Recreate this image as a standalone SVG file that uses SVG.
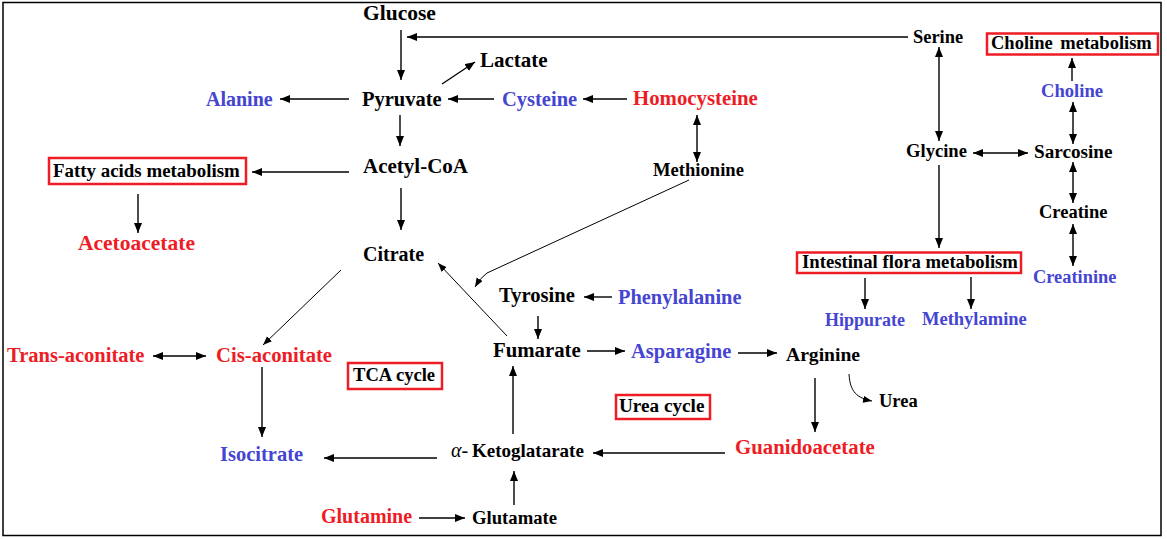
<svg xmlns="http://www.w3.org/2000/svg" width="1167" height="539" viewBox="0 0 1167 539">
<defs>
<marker id="ah" markerUnits="userSpaceOnUse" markerWidth="11" markerHeight="9" refX="10" refY="4" orient="auto-start-reverse"><path d="M0,0 L10,4 L0,8 Z" fill="#000"/></marker>
<marker id="ahs" markerUnits="userSpaceOnUse" markerWidth="10" markerHeight="8" refX="9" refY="3.5" orient="auto-start-reverse"><path d="M0,0 L9,3.5 L0,7 Z" fill="#000"/></marker>
</defs>
<style>
text{font-family:"Liberation Serif","Times New Roman",serif;font-weight:bold;fill:#000}
.r{fill:#EE1C25}
.b{fill:#4545D2}
.box{fill:none;stroke:#EE1C25;stroke-width:2.5}
.c line,.c path{stroke:#000;stroke-width:1.4;fill:none;marker-end:url(#ah)}
.c .d{marker-start:url(#ah)}
.c .t{stroke-width:1;marker-end:url(#ahs)}
</style>
<rect x="3" y="2.5" width="1158" height="533" fill="#fff" stroke="#000" stroke-width="1.5"/>
<g class="c" id="connectors">
<line x1="401" y1="30" x2="401" y2="80"/>
<line x1="908" y1="37" x2="407" y2="37"/>
<line x1="442" y1="84" x2="475" y2="62"/>
<line x1="349" y1="99" x2="280" y2="99"/>
<line x1="494" y1="99" x2="448" y2="99"/>
<line x1="627" y1="99" x2="583" y2="99"/>
<line class="d" x1="697" y1="115" x2="697" y2="162"/>
<line x1="400" y1="115" x2="400" y2="146"/>
<line x1="349" y1="172" x2="252" y2="172"/>
<line x1="138" y1="194" x2="138" y2="233"/>
<line x1="401" y1="188" x2="401" y2="230"/>
<line class="t" x1="341" y1="270" x2="263" y2="345"/>
<path class="t" d="M689,180 L487,273 Q481,277 475,287"/>
<line class="t" x1="507" y1="336" x2="438" y2="263"/>
<line x1="612" y1="297" x2="584" y2="297"/>
<line x1="538" y1="316" x2="538" y2="339"/>
<line x1="587" y1="351" x2="625" y2="351"/>
<line x1="738" y1="353" x2="777" y2="353"/>
<path class="t" d="M849,374 C850,392 857,398 872,401"/>
<line x1="815" y1="378" x2="815" y2="432"/>
<line x1="725" y1="453" x2="593" y2="453"/>
<line x1="437" y1="458" x2="324" y2="458"/>
<line x1="262" y1="367" x2="262" y2="437"/>
<line class="d" x1="153" y1="356" x2="206" y2="356"/>
<line x1="419" y1="518" x2="465" y2="518"/>
<line x1="514" y1="505" x2="514" y2="471"/>
<line x1="513" y1="434" x2="513" y2="366"/>
<line class="d" x1="939" y1="47" x2="939" y2="141"/>
<line class="d" x1="973" y1="153" x2="1028" y2="153"/>
<line x1="939" y1="165" x2="939" y2="248"/>
<line x1="1072" y1="81" x2="1072" y2="58"/>
<line class="d" x1="1073" y1="102" x2="1073" y2="144"/>
<line class="d" x1="1073" y1="162" x2="1073" y2="203"/>
<line class="d" x1="1073" y1="224" x2="1073" y2="266"/>
<line x1="865" y1="278" x2="865" y2="309"/>
<line x1="971" y1="277" x2="971" y2="309"/>
</g>
<g id="glucose"><text x="363" y="20" font-size="21.5">Glucose</text></g>
<g id="lactate"><text x="480" y="67" font-size="21">Lactate</text></g>
<g id="pyruvate"><text x="362" y="106" font-size="20.5">Pyruvate</text></g>
<g id="alanine"><text class="b" x="206" y="106" font-size="20">Alanine</text></g>
<g id="cysteine"><text class="b" x="502" y="106" font-size="20.5">Cysteine</text></g>
<g id="homocysteine"><text class="r" x="633" y="105" font-size="20.8">Homocysteine</text></g>
<g id="acetylcoa"><text x="363" y="173" font-size="21">Acetyl-CoA</text></g>
<g id="fatty"><rect class="box" x="49" y="158" width="197" height="26"/><text x="53" y="177" font-size="18.9">Fatty acids metabolism</text></g>
<g id="acetoacetate"><text class="r" x="78" y="250" font-size="21.5">Acetoacetate</text></g>
<g id="citrate"><text x="363" y="261" font-size="20">Citrate</text></g>
<g id="methionine"><text x="653" y="176" font-size="18.6">Methionine</text></g>
<g id="serine"><text x="913" y="43" font-size="18.4">Serine</text></g>
<g id="cholinemet"><rect class="box" x="987" y="33.5" width="171" height="21"/><text x="991" y="49" font-size="18.5" word-spacing="3">Choline metabolism</text></g>
<g id="choline"><text class="b" x="1041" y="97" font-size="18.6">Choline</text></g>
<g id="glycine"><text x="906" y="157" font-size="18.6">Glycine</text></g>
<g id="sarcosine"><text x="1034" y="158" font-size="19.2">Sarcosine</text></g>
<g id="creatine"><text x="1039" y="218" font-size="18.5">Creatine</text></g>
<g id="creatinine"><text class="b" x="1033" y="283" font-size="18.4">Creatinine</text></g>
<g id="intestinal"><rect class="box" x="797" y="252.5" width="224" height="20.5"/><text x="802" y="268" font-size="18.7">Intestinal flora metabolism</text></g>
<g id="hippurate"><text class="b" x="825" y="326" font-size="18">Hippurate</text></g>
<g id="methylamine"><text class="b" x="922" y="325" font-size="18.5">Methylamine</text></g>
<g id="transaconitate"><text class="r" x="7" y="362" font-size="20.5">Trans-aconitate</text></g>
<g id="cisaconitate"><text class="r" x="216" y="362" font-size="20.7">Cis-aconitate</text></g>
<g id="tca"><rect class="box" x="348" y="363" width="94" height="26"/><text x="353" y="381" font-size="18.6">TCA cycle</text></g>
<g id="isocitrate"><text class="b" x="220" y="461" font-size="20.5">Isocitrate</text></g>
<g id="glutamine"><text class="r" x="321" y="523" font-size="20">Glutamine</text></g>
<g id="tyrosine"><text x="499" y="302" font-size="20.6">Tyrosine</text></g>
<g id="phenylalanine"><text class="b" x="618" y="304" font-size="20.4">Phenylalanine</text></g>
<g id="fumarate"><text x="493" y="357" font-size="20.8">Fumarate</text></g>
<g id="asparagine"><text class="b" x="631" y="358" font-size="20.5">Asparagine</text></g>
<g id="arginine"><text x="786" y="361" font-size="19.6">Arginine</text></g>
<g id="urea"><text x="879" y="407" font-size="18.5">Urea</text></g>
<g id="ureacycle"><rect class="box" x="616" y="395" width="94" height="24"/><text x="619" y="412" font-size="19.2">Urea cycle</text></g>
<g id="ketoglatarate"><text x="451" y="457" font-size="19"><tspan font-style="italic" font-weight="normal" font-size="20">α-</tspan><tspan x="472">Ketoglatarate</tspan></text></g>
<g id="guanidoacetate"><text class="r" x="735" y="454" font-size="20.8">Guanidoacetate</text></g>
<g id="glutamate"><text x="472" y="524" font-size="18.7">Glutamate</text></g>
</svg>
